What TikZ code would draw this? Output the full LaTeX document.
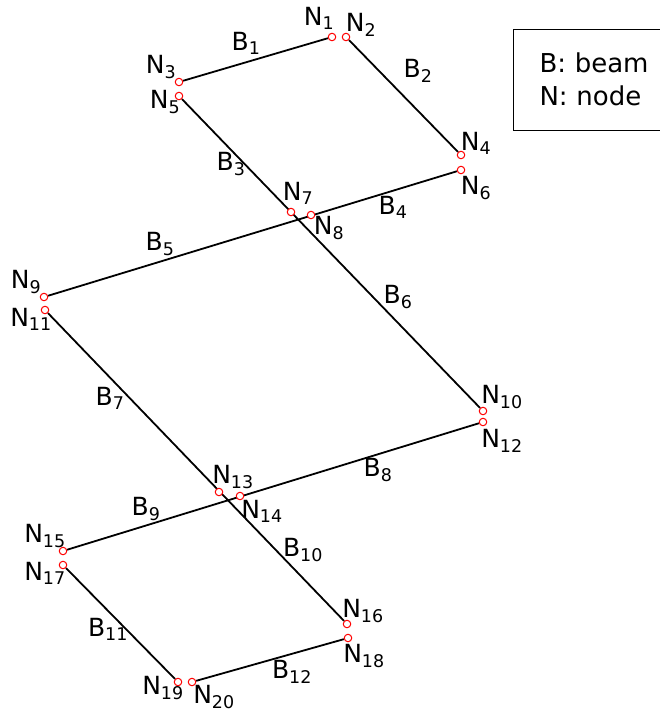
\documentclass[tikz,border=0pt]{standalone}
\usepackage{fontspec}
\setmainfont{DejaVu Sans}
\usetikzlibrary{backgrounds}

\newcommand{\Nl}[1]{N\textsubscript{#1}}
\newcommand{\Bl}[1]{B\textsubscript{#1}}

\begin{document}
\begin{tikzpicture}[
  x=1pt, y=-1pt,
  jnt/.style={circle, draw=red, fill=white, line width=1pt, inner sep=0pt, minimum size=7.5pt},
  beam/.style={line width=1.8pt},
  lbl/.style={font=\fontsize{25}{29}\selectfont, inner sep=0pt}
]
\useasboundingbox (0,0) rectangle (660,715);

% --- Nodos ---
\node[jnt] (n1)  at (332,37)  {};
\node[jnt] (n2)  at (346,37)  {};
\node[jnt] (n3)  at (179,82)  {};
\node[jnt] (n4)  at (461,155) {};
\node[jnt] (n5)  at (179,96)  {};
\node[jnt] (n6)  at (461,170) {};
\node[jnt] (n7)  at (291,212) {};
\node[jnt] (n8)  at (311,215) {};
\node[jnt] (n9)  at (44,297)  {};
\node[jnt] (n10) at (483,411) {};
\node[jnt] (n11) at (45,310)  {};
\node[jnt] (n12) at (483,422) {};
\node[jnt] (n13) at (219,492) {};
\node[jnt] (n14) at (240,496) {};
\node[jnt] (n15) at (63,551)  {};
\node[jnt] (n16) at (347,624) {};
\node[jnt] (n17) at (63,565)  {};
\node[jnt] (n18) at (348,638) {};
\node[jnt] (n19) at (178,682) {};
\node[jnt] (n20) at (192,682) {};

% --- Vigas ---
\begin{scope}[on background layer]
  \draw[beam] (n3)  -- (n1);   % B1
  \draw[beam] (n2)  -- (n4);   % B2
  \draw[beam] (n5)  -- (n10);  % B3, B6
  \draw[beam] (n9)  -- (n6);   % B5, B4
  \draw[beam] (n11) -- (n16);  % B7, B10
  \draw[beam] (n15) -- (n12);  % B9, B8
  \draw[beam] (n17) -- (n19);  % B11
  \draw[beam] (n20) -- (n18);  % B12
\end{scope}

% --- Etiquetas de nodos ---
\node[lbl] (tn1)  at (319,18)  {\Nl{1}};
\node[lbl] (tn2)  at (361,25)  {\Nl{2}};
\node[lbl] (tn3)  at (161,67)  {\Nl{3}};
\node[lbl] (tn4)  at (476,143) {\Nl{4}};
\node[lbl] (tn5)  at (165,102) {\Nl{5}};
\node[lbl] (tn6)  at (476,188) {\Nl{6}};
\node[lbl] (tn7)  at (298,193) {\Nl{7}};
\node[lbl] (tn8)  at (329,228) {\Nl{8}};
\node[lbl] (tn9)  at (26,282)  {\Nl{9}};
\node[lbl] (tn10) at (502,397) {\Nl{10}};
\node[lbl] (tn11) at (31,319)  {\Nl{11}};
\node[lbl] (tn12) at (502,441) {\Nl{12}};
\node[lbl] (tn13) at (233,477) {\Nl{13}};
\node[lbl] (tn14) at (262,511) {\Nl{14}};
\node[lbl] (tn15) at (45,536)  {\Nl{15}};
\node[lbl] (tn16) at (363,611) {\Nl{16}};
\node[lbl] (tn17) at (45,573)  {\Nl{17}};
\node[lbl] (tn18) at (364,656) {\Nl{18}};
\node[lbl] (tn19) at (163,688) {\Nl{19}};
\node[lbl] (tn20) at (214,697) {\Nl{20}};

% --- Etiquetas de vigas ---
\node[lbl] (tb1)  at (246,43)  {\Bl{1}};
\node[lbl] (tb2)  at (418,71)  {\Bl{2}};
\node[lbl] (tb3)  at (231,164) {\Bl{3}};
\node[lbl] (tb4)  at (393,207) {\Bl{4}};
\node[lbl] (tb5)  at (160,244) {\Bl{5}};
\node[lbl] (tb6)  at (398,297) {\Bl{6}};
\node[lbl] (tb7)  at (110,398) {\Bl{7}};
\node[lbl] (tb8)  at (378,470) {\Bl{8}};
\node[lbl] (tb9)  at (146,509) {\Bl{9}};
\node[lbl] (tb10) at (303,550) {\Bl{10}};
\node[lbl] (tb11) at (108,629) {\Bl{11}};
\node[lbl] (tb12) at (292,672) {\Bl{12}};

% --- Leyenda ---
\node[draw, line width=1pt, anchor=north west, inner xsep=26.5pt, inner ysep=0pt,
      text width=140pt, minimum height=101.5pt, align=left,
      font=\fontsize{26}{33}\selectfont] (legend) at (512.5,28.5)
  {B: beam\\N: node};
\end{tikzpicture}
\end{document}
